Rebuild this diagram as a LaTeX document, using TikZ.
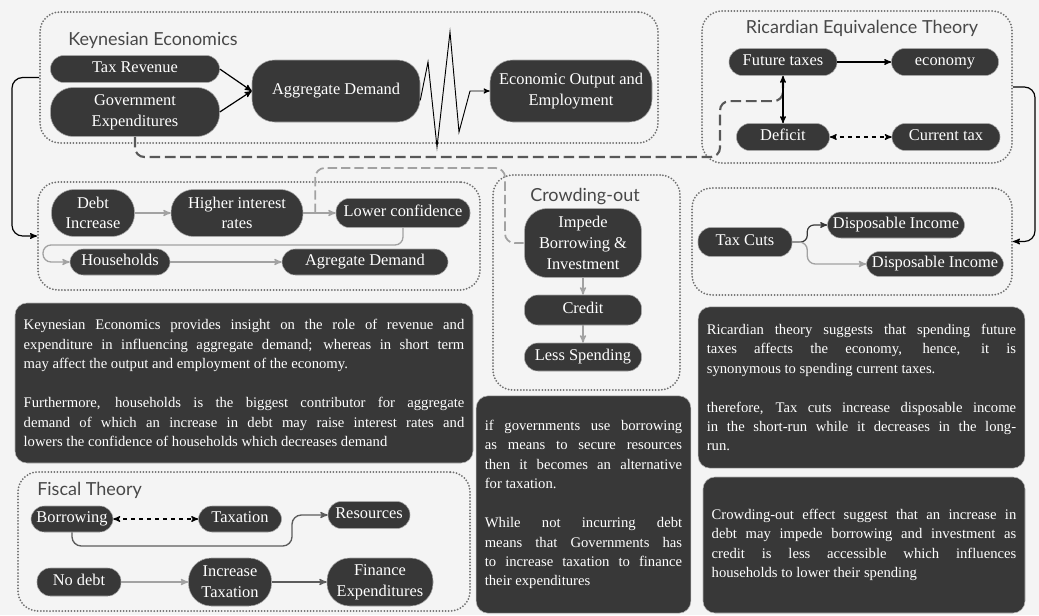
\documentclass[tikz,border=0pt]{standalone}
\usepackage{fontspec}
\setmainfont{Liberation Serif}
\newfontfamily\titlefont{Lato}
\usetikzlibrary{arrows}
\usetikzlibrary{calc}
\usetikzlibrary{fit}
\usetikzlibrary{positioning}
\setlength{\parindent}{0pt}

\definecolor{bggray}{HTML}{F4F4F4}
\definecolor{nodegray}{HTML}{383838}
\definecolor{zonegray}{HTML}{6E6E6E}
\definecolor{titlegray}{HTML}{484848}
\definecolor{lightarrow}{HTML}{A2A2A2}
\definecolor{midarrow}{HTML}{5C5C5C}
\definecolor{dashgray}{HTML}{585858}

\tikzset{
  box/.style={draw=gray!70, line width=0.4pt, fill=nodegray, text=white,
    align=center, rounded corners=10pt, inner sep=2pt,
    text height=1.7ex, text depth=0.45ex,
    font=\fontsize{12.3}{15.5}\selectfont},
  tallbox/.style={box, rounded corners=17pt, text height={}, text depth={}},
  zone/.style={draw=zonegray, line width=1.5pt, dash pattern=on 0pt off 2.3pt,
    line cap=round, rounded corners=15pt, inner sep=0pt},
  note/.style={fill=nodegray, draw=gray!60, text=white, rounded corners=9pt,
    align=justify, inner xsep=6.5pt, font=\fontsize{11}{14.6}\selectfont},
  ttl/.style={text=titlegray, inner sep=0pt,
    font=\titlefont\fontsize{13.5}{16}\selectfont},
  wd/.style={minimum width=#1*0.75pt},
  hg/.style={minimum height=#1*0.75pt},
  blk/.style={->, black, line width=0.9pt},
  lgr/.style={->, lightarrow, line width=1pt},
  mgr/.style={->, midarrow, line width=1pt},
  gdash/.style={dashgray, line width=1.6pt, dash pattern=on 8pt off 3.5pt},
  ldash/.style={lightarrow, line width=1.3pt, dash pattern=on 7pt off 3pt},
}

\begin{document}
\begin{tikzpicture}[>=stealth', x=0.75pt, y=-0.75pt]
  \fill[bggray, use as bounding box] (0,0) rectangle (1039,615);

  % frames
  \node[zone, fit={(40,12) (658,143)}] (kframe) {};
  \node[zone, fit={(702,11) (1012,163)}] (rframe) {};
  \node[zone, fit={(38,182) (480,290)}] (dframe) {};
  \node[zone, fit={(493,175) (680,390)}] (cframe) {};
  \node[zone, fit={(692,188) (1012,295)}] (tframe) {};
  \node[zone, fit={(18,472) (470,611)}] (fframe) {};

  \node[ttl, anchor=west] (ktitle) at (68,40) {Keynesian Economics};
  \node[ttl] (rtitle) at (862,28) {Ricardian Equivalence Theory};
  \node[ttl] (ctitle) at (585,197) {Crowding-out};
  \node[ttl, anchor=west] (ftitle) at (37,490) {Fiscal Theory};

  % Keynesian economics
  \node[box, wd=169, hg=27] (tax) at (135,69) {Tax Revenue};
  \node[tallbox, wd=169, hg=49] (gov) at (135,112)
       {Government\\Expenditures};
  \node[tallbox, wd=168, hg=62] (ad) at (336,91) {Aggregate Demand};
  \node[tallbox, wd=162, hg=62] (eo) at (571,91)
       {Economic Output and\\Employment};

  % Ricardian equivalence
  \node[box, wd=108, hg=27] (fut) at (783,62) {Future taxes};
  \node[box, wd=107, hg=27] (econ) at (945,62) {economy};
  \node[box, wd=93, hg=27] (def) at (783,137) {Deficit};
  \node[box, wd=108, hg=27] (cur) at (946,137) {Current tax};

  % debt
  \node[tallbox, wd=83, hg=47] (debt) at (93,213) {Debt\\Increase};
  \node[tallbox, wd=132, hg=47] (hir) at (237,213)
       {Higher interest\\rates};
  \node[box, wd=134, hg=29] (low) at (403,213) {Lower confidence};
  \node[box, wd=100, hg=26] (hh) at (120,262) {Households};
  \node[box, wd=166, hg=26] (agd) at (365,262) {Agregate Demand};

  % crowding-out
  \node[tallbox, wd=117, hg=69] (imp) at (583,243)
       {Impede\\Borrowing \&\\Investment};
  \node[box, wd=117, hg=30] (cred) at (583,310) {Credit};
  \node[box, wd=117, hg=28] (less) at (583,357) {Less Spending};

  % tax cuts
  \node[box, wd=94, hg=29] (cuts) at (745,242) {Tax Cuts};
  \node[box, wd=137, hg=26] (di1) at (896,225) {Disposable Income};
  \node[box, wd=137, hg=25] (di2) at (935,264) {Disposable Income};

  % fiscal theory
  \node[box, wd=82, hg=26] (borr) at (72,519) {Borrowing};
  \node[box, wd=83, hg=26] (taxa) at (240,519) {Taxation};
  \node[box, wd=82, hg=27] (res) at (369,515) {Resources};
  \node[box, wd=84, hg=28] (nodebt) at (79,582) {No debt};
  \node[tallbox, wd=83, hg=48] (inctax) at (230,582) {Increase\\Taxation};
  \node[tallbox, wd=106, hg=48] (fin) at (380,582)
       {Finance\\Expenditures};

  % notes
  \node[note, text width=330.5pt, minimum height=120pt] (knote) at (244,383)
       {Keynesian Economics provides insight on the role of revenue and\linebreak
        expenditure in influencing aggregate demand; whereas in short term\linebreak
        may affect the output and employment of the economy.\par\vspace{14.6pt}
        Furthermore, households is the biggest contributor for aggregate\linebreak
        demand of which an increase in debt may raise interest rates and\linebreak
        lowers the confidence of households which decreases demand};
  \node[note, text width=148pt, minimum height=163pt] (fnote) at (583.5,504.5)
       {if governments use borrowing\linebreak
        as means to secure resources\linebreak
        then it becomes an alternative\linebreak
        for taxation.\par\vspace{14.6pt}
        While not incurring debt\linebreak
        means that Governments has\linebreak
        to increase taxation to finance\linebreak
        their expenditures};
  \node[note, text width=232pt, minimum height=121pt] (rnote) at (861.5,387.5)
       {Ricardian theory suggests that spending future\linebreak
        taxes affects the economy, hence, it is\linebreak
        synonymous to spending current taxes.\par\vspace{14.6pt}
        therefore, Tax cuts increase disposable income\linebreak
        in the short-run while it decreases in the long-\linebreak
        run.};
  \node[note, text width=228.5pt, minimum height=102pt] (cnote) at (864,545)
       {Crowding-out effect suggest that an increase in\linebreak
        debt may impede borrowing and investment as\linebreak
        credit is less accessible which influences\linebreak
        households to lower their spending};

  % connectors
  \draw[gdash, rounded corners=7pt] (gov.south) |- (720,157)
       |- ([yshift=-19pt]fut.south) -- (fut.south);
  \draw[ldash, rounded corners=7pt] ([xshift=9pt]hir.east) |- (505,168)
       |- (imp.west);

  \draw[blk] (tax.east) -- (ad.west);
  \draw[blk] (gov.east) -- (ad.west);
  \draw[blk, line width=0.7pt] ([yshift=-7pt]ad.east) -- (428,62) -- (437,147)
       -- (450,32) -- (459,132) -- (470,91) -- (eo.west);

  \draw[blk] (fut) -- (econ);
  \draw[blk, <->] (fut) -- (def);
  \draw[blk, dashed, <->] (def) -- (cur);

  \draw[lgr] (debt) -- (hir);
  \draw[lgr] (hir) -- (low);
  \draw[lgr, rounded corners=6pt] (low.south) |- (43,245) |- (hh.west);
  \draw[lgr] (hh) -- (agd);

  \draw[lgr] (imp) -- (cred);
  \draw[lgr] (cred) -- (less);

  \draw[blk, midarrow!60!black, rounded corners=5pt] (cuts.east) -- ++(15,0)
       |- (di1.west);
  \draw[lgr, rounded corners=6pt] (cuts.east) -- ++(15,0) |- (di2.west);

  \draw[blk, dashed, <->] (borr) -- (taxa);
  \draw[mgr, rounded corners=7pt] (borr.south) |- (292,546) |- (res.west);
  \draw[lgr] (nodebt) -- (inctax);
  \draw[mgr] (inctax) -- (fin);

  \draw[blk, rounded corners=8pt] (kframe.west) -- ++(-27,0) |- (dframe.west);
  \draw[blk, rounded corners=8pt] (rframe.east) -- ++(22,0) |- (tframe.east);
\end{tikzpicture}
\end{document}
